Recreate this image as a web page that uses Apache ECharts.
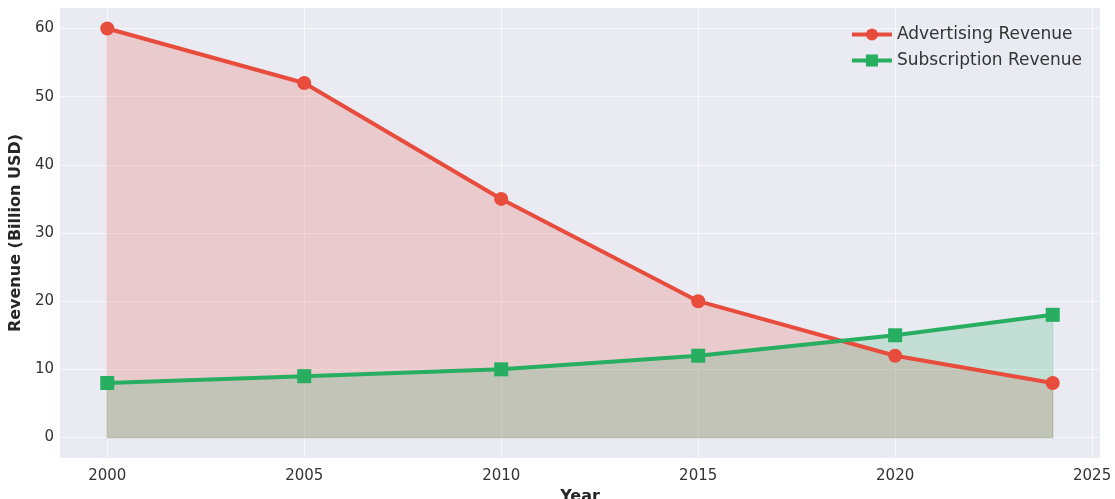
<!DOCTYPE html>
<html>
<head>
<meta charset="utf-8">
<script src="https://cdn.jsdelivr.net/npm/echarts@6/dist/echarts.min.js"></script>
<style>
  html, body { margin: 0; padding: 0; background: #ffffff; }
  #chart { width: 1115px; height: 499px; }
</style>
</head>
<body>
<div id="chart"></div>
<script>
// Revenue by year (billion USD)
const years = [2000, 2005, 2010, 2015, 2020, 2024];
const advertising = [60, 52, 35, 20, 12, 8];
const subscription = [8, 9, 10, 12, 15, 18];
const xTicks = [2000, 2005, 2010, 2015, 2020, 2025];
const yTicks = [0, 10, 20, 30, 40, 50, 60];

const RED = '#e74c3c';
const GREEN = '#27ae60';
const FONT = 'DejaVu Sans';

// Shaded polygon between a series and zero, with a thin outline
function fillSeries(name, values, color) {
  return {
    type: 'custom',
    name: name + ' fill',
    silent: true,
    data: years.map((y, i) => [y, values[i]]),
    renderItem: function (params, api) {
      if (params.dataIndex !== 0) return null;
      const pts = years.map((y, i) => api.coord([y, values[i]]));
      pts.push(api.coord([years[years.length - 1], 0]));
      pts.push(api.coord([years[0], 0]));
      return {
        type: 'polygon',
        shape: { points: pts },
        style: { fill: color, opacity: 0.2, stroke: color, lineWidth: 1.2 }
      };
    },
    z: 1
  };
}

const chart = echarts.init(document.getElementById('chart'), null, { renderer: 'canvas' });
chart.setOption({
  animation: false,
  backgroundColor: '#ffffff',
  textStyle: { fontFamily: FONT },
  grid: {
    left: 60, right: 15, top: 8, bottom: 41,
    outerBoundsMode: 'none', containLabel: false,
    show: true, backgroundColor: '#eaeaf2', borderWidth: 0
  },
  legend: {
    right: 28, top: 21, orient: 'vertical', itemGap: 9,
    itemWidth: 40, itemHeight: 15,
    lineStyle: { width: 4 },
    textStyle: { fontFamily: FONT, fontSize: 17, color: '#333333' },
    data: ['Advertising Revenue', 'Subscription Revenue']
  },
  xAxis: {
    type: 'value', min: 1998.8, max: 2025.2,
    name: 'Year', nameLocation: 'middle', nameGap: 29,
    nameTextStyle: { fontFamily: FONT, fontSize: 16, fontWeight: 'bold', color: '#262626' },
    axisLine: { show: false },
    axisTick: { show: false, customValues: xTicks },
    axisLabel: {
      customValues: xTicks, formatter: v => String(v),
      fontFamily: FONT, fontSize: 15, color: '#333333', margin: 11
    },
    splitLine: { show: true, lineStyle: { color: '#ffffff', width: 1, opacity: 0.6 } }
  },
  yAxis: {
    type: 'value', min: -3, max: 63,
    name: 'Revenue (Billion USD)', nameLocation: 'middle', nameGap: 25,
    nameTextStyle: { fontFamily: FONT, fontSize: 16, fontWeight: 'bold', color: '#262626' },
    axisLine: { show: false },
    axisTick: { show: false, customValues: yTicks },
    axisLabel: {
      customValues: yTicks, formatter: v => String(v),
      fontFamily: FONT, fontSize: 15, color: '#333333', margin: 6
    },
    splitLine: { show: true, lineStyle: { color: '#ffffff', width: 1, opacity: 0.6 } }
  },
  series: [
    fillSeries('Advertising Revenue', advertising, RED),
    fillSeries('Subscription Revenue', subscription, GREEN),
    {
      type: 'line', name: 'Advertising Revenue',
      data: years.map((y, i) => [y, advertising[i]]),
      symbol: 'circle', symbolSize: 14, showAllSymbol: true,
      lineStyle: { color: RED, width: 4 },
      itemStyle: { color: RED },
      z: 3
    },
    {
      type: 'line', name: 'Subscription Revenue',
      data: years.map((y, i) => [y, subscription[i]]),
      symbol: 'rect', symbolSize: 14, showAllSymbol: true,
      lineStyle: { color: GREEN, width: 4 },
      itemStyle: { color: GREEN },
      z: 4
    }
  ]
});
</script>
</body>
</html>
